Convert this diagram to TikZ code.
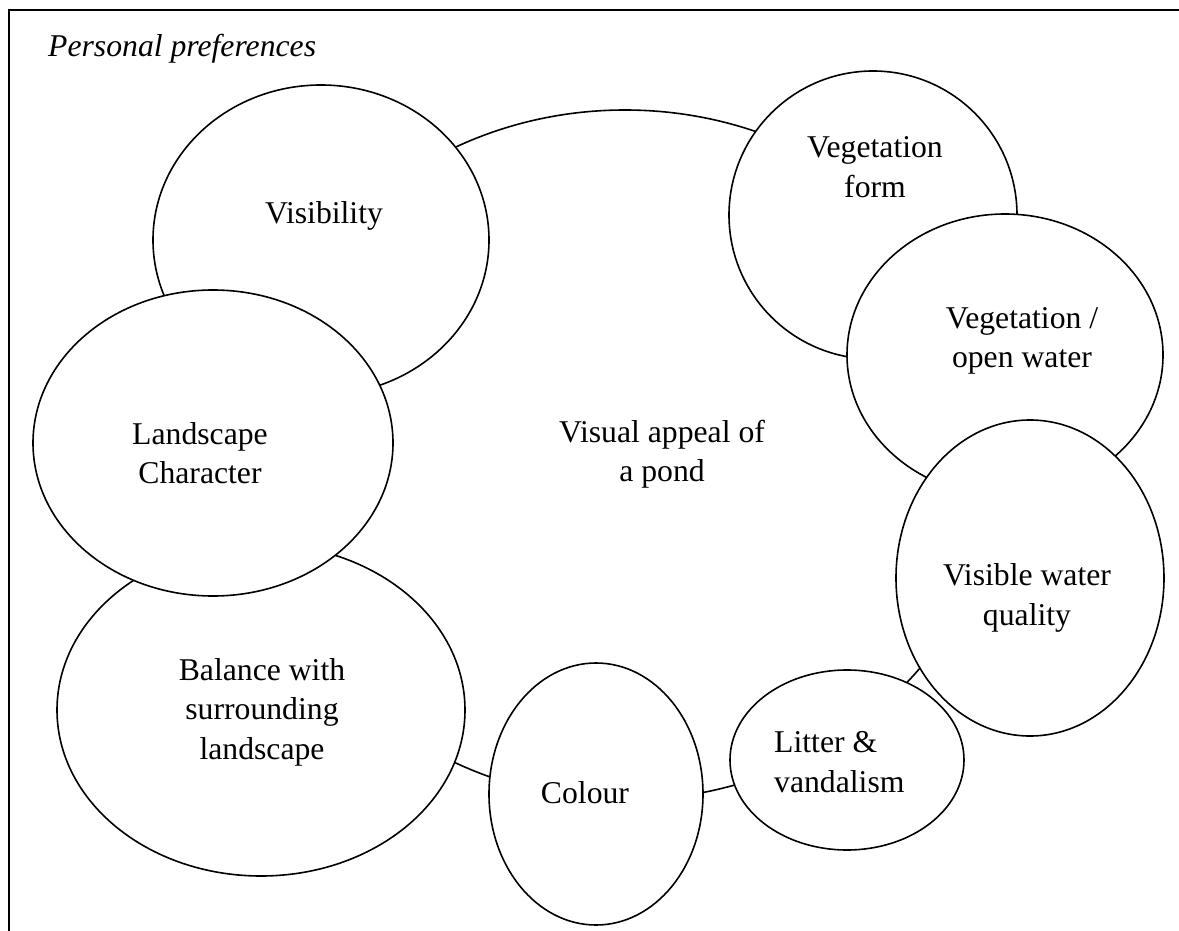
\documentclass[tikz,border=0pt]{standalone}
\usepackage{fontspec}
\setmainfont{Liberation Serif}
\usetikzlibrary{shapes.geometric}
\begin{document}
\begin{tikzpicture}[x=1pt,y=-1pt,
  bub/.style={ellipse,draw=black,fill=white,line width=1.6pt,inner sep=0pt},
  lbl/.style={font=\fontsize{31.7}{39.5}\selectfont,align=center,inner sep=0pt}]
\useasboundingbox (0,0) rectangle (1179,931);
\draw[line width=2pt] (9,931) -- (9,10) -- (1179,10);
\node[lbl,font=\fontsize{31.7}{39.5}\selectfont\itshape,anchor=base west] (title) at (48,57) {Personal preferences};
% bubbles, back to front
\node[bub,minimum width=750pt,minimum height=690pt] (central) at (625,455) {};
\node[bub,minimum width=336pt,minimum height=310pt] (visb) at (321,240) {};
\node[bub,minimum width=408pt,minimum height=332pt] (balb) at (261,710) {};
\node[bub,minimum width=360pt,minimum height=306pt] (landb) at (213,443) {};
\node[bub,minimum width=214pt,minimum height=262pt] (colb) at (596,794) {};
\node[bub,minimum width=234pt,minimum height=180pt] (litb) at (847,760) {};
\node[bub,minimum width=288pt,minimum height=288pt] (vformb) at (873,215) {};
\node[bub,minimum width=316pt,minimum height=282pt] (vopenb) at (1005,355) {};
\node[bub,minimum width=268pt,minimum height=316pt] (watb) at (1030,578) {};
% labels
\node[lbl] (centralt) at (662,454) {Visual appeal of\\a pond};
\node[lbl] (vist) at (324,216) {Visibility};
\node[lbl] (landt) at (200,453) {Landscape\\Character};
\node[lbl] (balt) at (262,712) {Balance with\\surrounding\\landscape};
\node[lbl] (colt) at (585,793) {Colour};
\node[lbl,align=left,anchor=west] (litt) at (774,762) {Litter \&\\vandalism};
\node[lbl] (watt) at (1027,598) {Visible water\\quality};
\node[lbl] (vopent) at (1022,341) {Vegetation /\\open water};
\node[lbl] (vformt) at (875,167) {Vegetation\\form};
\end{tikzpicture}
\end{document}
